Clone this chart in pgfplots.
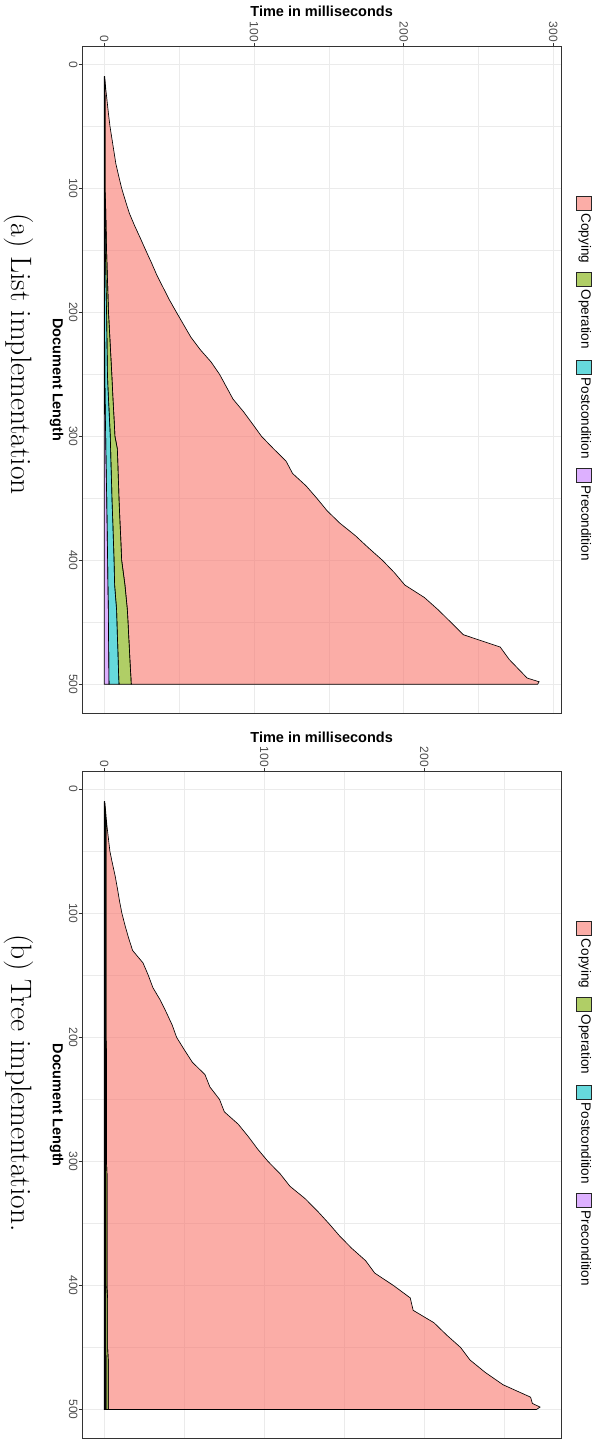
\documentclass[border=0pt]{standalone}
\usepackage{fontspec}
\usepackage{pgfplots}
\usepackage{pgfplotstable}
\pgfplotsset{compat=1.18}
\newfontfamily\sans{Liberation Sans}
\definecolor{gridc}{HTML}{EBEBEB}
\definecolor{frame}{HTML}{333333}
\definecolor{tickc}{HTML}{4D4D4D}
\definecolor{cCopy}{HTML}{F8766D}
\definecolor{cOp}{HTML}{7CAE00}
\definecolor{cPost}{HTML}{00BFC4}
\definecolor{cPre}{HTML}{C77CFF}
\definecolor{lCopy}{HTML}{FBADA7}
\definecolor{lOp}{HTML}{B0CE66}
\definecolor{lPost}{HTML}{66D9DC}
\definecolor{lPre}{HTML}{DDB0FF}

\pgfplotstableread{
L pre post op copy
10 0.05 0.05 0.1 0.1
20 0.1 0.12 0.15 0.63
30 0.12 0.15 0.2 1.43
40 0.12 0.15 0.2 2.33
50 0.12 0.15 0.2 3.33
60 0.12 0.15 0.2 4.63
70 0.12 0.15 0.2 5.93
80 0.12 0.15 0.2 7.23
90 0.12 0.15 0.2 9.13
100 0.12 0.15 0.2 11.13
110 0.14 0.26 0.4 13.3
120 0.16 0.32 0.5 15.72
130 0.18 0.38 0.6 19.04
140 0.2 0.44 0.7 22.66
150 0.2 0.5 0.8 26.2
160 0.2 0.66 0.9 29.74
170 0.2 0.82 1.0 33.08
180 0.2 0.98 1.1 37.02
190 0.2 1.14 1.2 40.96
200 0.2 1.3 1.3 45.4
210 0.22 1.4 1.62 49.76
220 0.24 1.5 1.94 54.12
230 0.26 1.6 2.26 59.88
240 0.28 1.7 2.58 66.74
250 0.3 1.8 2.9 72.0
260 0.4 2.0 3.0 76.1
270 0.53 2.27 3.0 80.2
280 0.65 2.55 3.05 86.65
290 0.78 2.82 3.1 92.3
300 0.9 3.1 3.1 97.9
310 1.0 3.2 4.5 104.3
320 1.15 3.25 4.6 112.4
330 1.3 3.35 4.6 116.55
340 1.45 3.45 4.65 125.25
350 1.6 3.5 4.7 132.2
360 1.7 3.7 4.75 138.65
370 1.85 3.85 4.8 146.8
380 1.95 4.0 4.95 156.7
390 2.1 4.15 5.0 165.25
400 2.2 4.3 5.1 174.2
410 2.3 4.4 6.0 181.1
420 2.4 4.5 6.9 187.0
430 2.55 5.0 7.05 199.2
440 2.7 5.5 7.2 207.7
450 2.75 5.7 7.4 215.65
460 2.8 5.9 7.55 223.55
470 2.9 6.1 7.7 247.8
480 2.95 6.3 7.85 253.4
490 3.05 6.45 8.05 260.95
495 3.05 6.6 8.15 264.7
498 3.1 6.65 8.15 272.6
500 3.1 6.7 8.2 271.5
}\tabA

\pgfplotstableread{
L pre post op copy
10 0.05 0.05 0.05 0.15
20 0.2 0.2 0.3 0.3
30 0.3 0.35 0.45 0.6
40 0.3 0.35 0.45 1.5
50 0.3 0.35 0.45 2.4
60 0.3 0.35 0.45 4.0
70 0.3 0.35 0.45 5.7
80 0.3 0.35 0.45 7.1
90 0.3 0.35 0.45 8.4
100 0.3 0.35 0.45 9.9
110 0.3 0.35 0.45 11.9
120 0.3 0.35 0.45 14.1
130 0.3 0.35 0.45 16.6
140 0.3 0.35 0.45 23.1
150 0.3 0.35 0.45 26.4
160 0.3 0.35 0.45 29.3
170 0.3 0.35 0.45 33.9
180 0.3 0.35 0.45 37.7
190 0.3 0.35 0.45 41.3
200 0.3 0.35 0.45 44.1
210 0.35 0.4 0.6 48.65
220 0.35 0.4 0.6 53.65
230 0.35 0.4 0.6 61.55
240 0.35 0.4 0.6 64.65
250 0.35 0.4 0.6 70.65
260 0.35 0.4 0.6 73.65
270 0.35 0.4 0.6 82.35
280 0.35 0.4 0.6 88.65
290 0.35 0.4 0.6 94.45
300 0.35 0.4 0.6 100.95
310 0.4 0.45 0.8 108.25
320 0.4 0.45 0.8 114.35
330 0.4 0.45 0.8 123.85
340 0.4 0.45 0.8 131.55
350 0.4 0.45 0.8 138.65
360 0.4 0.45 0.8 145.35
370 0.4 0.45 0.8 152.95
380 0.4 0.45 0.8 161.65
390 0.4 0.45 0.8 167.35
400 0.4 0.45 0.8 179.05
410 0.45 0.5 1.1 189.15
420 0.45 0.5 1.1 190.95
430 0.45 0.5 1.1 203.95
440 0.45 0.5 1.1 211.95
450 0.45 0.5 1.1 220.65
460 0.5 0.55 1.4 226.05
470 0.5 0.55 1.4 235.55
480 0.5 0.55 1.4 246.75
490 0.5 0.55 1.4 263.95
495 0.5 0.55 1.4 265.05
498 0.5 0.55 1.4 269.85
500 0.5 0.55 1.4 267.55
}\tabB

\pgfplotsset{
  myax/.style={
    scale only axis, width=478.7pt,
    y dir=reverse, stack plots=x,
    axis line style={color=frame, line width=0.6pt},
    minor xtick={50,150,250},
    ytick={0,100,200,300,400,500}, minor ytick={50,150,250,350,450},
    xtick pos=right, xticklabel pos=right, ytick pos=left, yticklabel pos=left,
    tick align=outside, major tick length=3.6pt, minor tick length=0pt,
    tick style={color=frame, line width=0.6pt},
    grid=both,
    major grid style={color=gridc, line width=0.7pt},
    minor grid style={color=gridc, line width=0.35pt},
    ticklabel style={font=\sans\fontsize{12}{14}\selectfont, text=tickc},
    /pgf/number format/assume math mode=true,
    xticklabel style={rotate=-90, anchor=east, inner sep=1pt},
    yticklabel style={rotate=-90, anchor=north, inner sep=1pt},
    xlabel={Time in milliseconds}, ylabel={Document Length},
    every axis x label/.style={at={(axis description cs:0.5,1.0444)}, anchor=base, inner sep=0pt, font=\sans\bfseries\fontsize{14.5}{16}\selectfont},
    every axis y label/.style={at={(axis description cs:-0.0616,0.5)}, rotate=-90, anchor=base, inner sep=0pt, font=\sans\bfseries\fontsize{14.5}{16}\selectfont},
    every axis plot/.append style={draw=black, line width=0.65pt, fill opacity=0.6, draw opacity=1},
  }
}

\begin{document}
\begin{tikzpicture}
\path[use as bounding box] (0,0) rectangle (597pt,-1439pt);

\begin{axis}[myax, at={(82.3pt,-46.5pt)}, anchor=north west, height=666.5pt,
  xmin=-14.7, xmax=305.1, ymin=-14.4, ymax=523.2, xtick={0,100,200,300}]
\addplot[draw=none, fill=none, forget plot] table[x expr=0, y=L] {\tabA};
\addplot[fill=cPre] table[x=pre, y=L] {\tabA} \closedcycle;
\addplot[fill=cPost] table[x=post, y=L] {\tabA} \closedcycle;
\addplot[fill=cOp] table[x=op, y=L] {\tabA} \closedcycle;
\addplot[fill=cCopy] table[x=copy, y=L] {\tabA} \closedcycle;
\end{axis}

\begin{axis}[myax, at={(82.3pt,-771.7pt)}, anchor=north west, height=667pt,
  xmin=-13.75, xmax=285.4, ymin=-14.1, ymax=523.5, xtick={0,100,200}]
\addplot[draw=none, fill=none, forget plot] table[x expr=0, y=L] {\tabB};
\addplot[fill=cPre] table[x=pre, y=L] {\tabB} \closedcycle;
\addplot[fill=cPost] table[x=post, y=L] {\tabB} \closedcycle;
\addplot[fill=cOp] table[x=op, y=L] {\tabB} \closedcycle;
\addplot[fill=cCopy] table[x=copy, y=L] {\tabB} \closedcycle;
\end{axis}

% legends
\foreach \dy in {0,725.2}{
  \begin{scope}[yshift=-\dy pt]
  \draw[black!85, line width=0.5pt, fill=lCopy] (576.5pt,-196pt) rectangle (591pt,-210.5pt);
  \draw[black!85, line width=0.5pt, fill=lOp] (576.5pt,-272pt) rectangle (591pt,-286.5pt);
  \draw[black!85, line width=0.5pt, fill=lPost] (576.5pt,-360pt) rectangle (591pt,-374.5pt);
  \draw[black!85, line width=0.5pt, fill=lPre] (576.5pt,-468pt) rectangle (591pt,-482.5pt);
  \begin{scope}[every node/.style={rotate=-90, anchor=base west, inner sep=0pt, font=\sans\fontsize{13.5}{15}\selectfont}]
  \node at (581.3pt,-213.5pt) {Copying};
  \node at (581.3pt,-289.5pt) {Operation};
  \node at (581.3pt,-377.5pt) {Postcondition};
  \node at (581.3pt,-485.5pt) {Precondition};
  \end{scope}
  \end{scope}
}

% captions
\node[rotate=-90, anchor=base, inner sep=0pt, font=\fontsize{29.5}{33}\selectfont] at (11pt,-354pt) {(a) List implementation};
\node[rotate=-90, anchor=base, inner sep=0pt, font=\fontsize{29.5}{33}\selectfont] at (11pt,-1083pt) {(b) Tree implementation.};
\end{tikzpicture}
\end{document}
